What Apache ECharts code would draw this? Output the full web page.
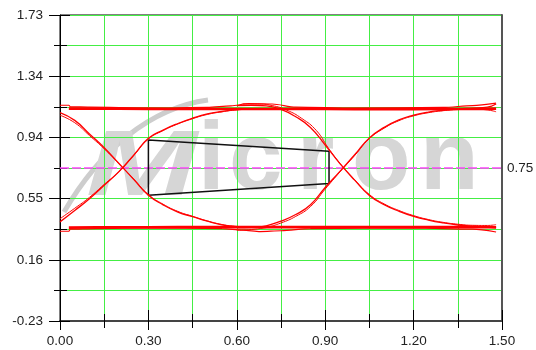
<!DOCTYPE html>
<html><head><meta charset="utf-8">
<script src="https://cdn.jsdelivr.net/npm/echarts/dist/echarts.min.js"></script>
<style>html,body{margin:0;padding:0;background:#fff}#c{width:536px;height:350px}</style>
</head><body><div id="c"></div>
<script>
// ---- tick labels ----
const xTicks = [0, 0.3, 0.6, 0.9, 1.2, 1.5];
const xTickLabels = ['0.00', '0.30', '0.60', '0.90', '1.20', '1.50'];
const yTicks = [-0.23, 0.162, 0.554, 0.946, 1.338, 1.73];
const yTickLabels = ['-0.23', '0.16', '0.55', '0.94', '1.34', '1.73'];
const refLevel = 0.75;
const refLabel = '0.75';
const watermark = ['M', 'i', 'c', 'r', 'o', 'n'];

// ---- eye traces (x = time, y = voltage) ----
const fallA = [[0.00,1.105],[0.05,1.055],[0.10,0.968],[0.15,0.880],[0.20,0.779],[0.25,0.677],[0.30,0.575],[0.35,0.514],[0.40,0.468],[0.45,0.438],[0.50,0.409],[0.55,0.386],[0.60,0.375],[0.65,0.371],[0.70,0.369]];
const fallB = [[0.00,1.088],[0.05,1.040],[0.10,0.958],[0.15,0.873],[0.20,0.777],[0.25,0.680],[0.30,0.580],[0.35,0.518],[0.40,0.472],[0.45,0.440],[0.50,0.411],[0.55,0.388],[0.60,0.376],[0.65,0.372]];
const riseA = [[0.00,0.405],[0.05,0.478],[0.10,0.553],[0.15,0.640],[0.20,0.727],[0.25,0.832],[0.30,0.940],[0.35,0.993],[0.40,1.035],[0.45,1.069],[0.50,1.096],[0.55,1.112],[0.60,1.124],[0.65,1.129]];
const riseB = [[0.00,0.425],[0.05,0.492],[0.10,0.562],[0.15,0.645],[0.20,0.726],[0.25,0.830],[0.30,0.935],[0.35,0.990],[0.40,1.032],[0.45,1.066],[0.50,1.093],[0.55,1.110],[0.60,1.122],[0.65,1.128]];
const fall2A = [[0.60,1.150],[0.65,1.152],[0.70,1.148],[0.75,1.125],[0.80,1.078],[0.85,1.010],[0.90,0.897],[0.95,0.778],[1.00,0.672],[1.05,0.574],[1.10,0.515],[1.15,0.473],[1.20,0.440],[1.25,0.416],[1.30,0.398],[1.35,0.385],[1.40,0.377],[1.45,0.372],[1.48,0.369]];
const fall2B = [[0.62,1.160],[0.67,1.160],[0.72,1.150],[0.77,1.120],[0.82,1.068],[0.87,0.990],[0.91,0.880],[0.95,0.780],[1.00,0.675],[1.05,0.580],[1.10,0.520],[1.15,0.478],[1.20,0.445],[1.25,0.420],[1.30,0.402],[1.35,0.390],[1.40,0.383],[1.45,0.382],[1.48,0.387]];
const rise2A = [[0.60,0.368],[0.65,0.370],[0.70,0.380],[0.75,0.410],[0.80,0.452],[0.85,0.515],[0.90,0.625],[0.95,0.728],[1.00,0.835],[1.05,0.943],[1.10,1.010],[1.15,1.058],[1.20,1.088],[1.25,1.108],[1.30,1.120],[1.35,1.128],[1.40,1.134],[1.45,1.140],[1.48,1.160]];
const rise2B = [[0.60,0.352],[0.65,0.356],[0.70,0.370],[0.75,0.398],[0.80,0.440],[0.85,0.503],[0.90,0.615],[0.95,0.725],[1.00,0.830],[1.05,0.938],[1.10,1.005],[1.15,1.053],[1.20,1.084],[1.25,1.104],[1.30,1.117],[1.35,1.124],[1.40,1.127],[1.45,1.122],[1.48,1.110]];
const topRail = [[0.03,1.130],[0.20,1.130],[0.40,1.128],[0.60,1.128],[0.80,1.128],[1.00,1.127],[1.20,1.127],[1.40,1.128],[1.48,1.130]];
const topRailAlt = [[0.00,1.152],[0.03,1.152],[0.035,1.142],[0.10,1.140],[0.30,1.134],[0.50,1.138],[0.58,1.148],[0.64,1.162],[0.72,1.160],[0.80,1.140],[1.00,1.133],[1.30,1.138],[1.40,1.150],[1.48,1.165]];
const bottomRail = [[0.03,0.368],[0.20,0.370],[0.40,0.371],[0.60,0.371],[0.80,0.371],[1.00,0.371],[1.20,0.371],[1.40,0.372],[1.48,0.370]];
const bottomRailAlt = [[0.00,0.345],[0.03,0.345],[0.035,0.358],[0.12,0.362],[0.30,0.366],[0.55,0.362],[0.62,0.352],[0.68,0.343],[0.75,0.348],[0.85,0.362],[1.20,0.366],[1.40,0.358],[1.48,0.340]];
// ---- eye mask ----
const maskX = [0.30, 0.913, 0.913, 0.30, 0.30];
const maskY = [0.930, 0.857, 0.650, 0.575, 0.930];

function pickLabel(v, ticks, labels) {
  for (let i = 0; i < ticks.length; i++) if (Math.abs(v - ticks[i]) < 1e-4) return labels[i];
  return '';
}

const GREEN = '#44ee44';
const WM = '#d6d6d6';
const labelStyle = { color: '#222', fontSize: 13.5, fontFamily: 'Liberation Sans, Arial, sans-serif' };

const chart = echarts.init(document.getElementById('c'), null, { renderer: 'canvas' });

const edges = [
  { d: fallA, w: 1.3 }, { d: fallB, w: 1 }, { d: riseA, w: 1.3 }, { d: riseB, w: 1 },
  { d: fall2A, w: 1.3 }, { d: fall2B, w: 1 }, { d: rise2A, w: 1.3 }, { d: rise2B, w: 1 }
];
const rails = [
  { d: topRailAlt, w: 1.2 }, { d: bottomRailAlt, w: 1.2 },
  { d: topRail, w: 2.6 }, { d: bottomRail, w: 2.6 }
];

const series = edges.map(t => ({
  type: 'line', data: t.d, symbol: 'none', showSymbol: false,
  smooth: 0.5, silent: true, z: 4, zlevel: 1,
  lineStyle: { color: '#ff0000', width: t.w }
})).concat(rails.map(t => ({
  type: 'line', data: t.d, symbol: 'none', showSymbol: false,
  smooth: 0.3, smoothMonotone: 'x', silent: true, z: 4, zlevel: 1,
  lineStyle: { color: '#ff0000', width: t.w }
})));

series.unshift({
  type: 'line', data: maskX.map((x, i) => [x, maskY[i]]), symbol: 'none', silent: true, z: 3, zlevel: 1,
  lineStyle: { color: '#111', width: 1.5 },
  markLine: {
    silent: true, symbol: 'none', animation: false, zlevel: 1, z: 3,
    lineStyle: { color: '#ff44ff', width: 1.5, type: [9, 3] },
    label: { show: true, position: 'end', distance: 5, formatter: refLabel, ...labelStyle },
    data: [{ yAxis: refLevel }]
  }
});

const xBase = { type: 'value', min: 0, max: 1.5, interval: 0.3, gridIndex: 0, zlevel: 1 };
const yBase = { type: 'value', min: -0.23, max: 1.73, interval: 0.392, gridIndex: 0, zlevel: 1 };

const wmText = (i, x, y, font, extra) => Object.assign({
  type: 'text', zlevel: 0, z: 0, silent: true, x: x, y: y,
  style: { text: watermark[i], font: font, fill: WM, verticalAlign: 'middle' }
}, extra || {});

chart.setOption({
  animation: false,
  backgroundColor: '#fff',
  grid: { left: 60, right: 34, top: 15, bottom: 29, show: true, borderColor: '#000', borderWidth: 1, zlevel: 1 },
  xAxis: [
    { ...xBase, position: 'bottom',
      axisLine: { show: true, onZero: false, lineStyle: { color: '#444', width: 2 } },
      axisTick: { show: true, inside: false, length: 9, lineStyle: { color: '#000' } },
      minorTick: { show: true, splitNumber: 2, length: 7, lineStyle: { color: '#000' } },
      axisLabel: { show: true, margin: 13, formatter: v => pickLabel(v, xTicks, xTickLabels), ...labelStyle },
      splitLine: { show: true, lineStyle: { color: GREEN, width: 1 } },
      minorSplitLine: { show: true, lineStyle: { color: GREEN, width: 1 } } },
    { ...xBase, position: 'bottom',
      axisLine: { show: false, onZero: false },
      axisTick: { show: true, inside: true, length: 11, lineStyle: { color: '#000' } },
      minorTick: { show: true, splitNumber: 2, length: 7, lineStyle: { color: '#000' } },
      axisLabel: { show: false }, splitLine: { show: false } }
  ],
  yAxis: [
    { ...yBase, position: 'left',
      axisLine: { show: true, onZero: false, lineStyle: { color: '#000', width: 1 } },
      axisTick: { show: true, inside: false, length: 11, lineStyle: { color: '#000' } },
      minorTick: { show: true, splitNumber: 2, length: 6, lineStyle: { color: '#000' } },
      axisLabel: { show: true, margin: 17, formatter: v => pickLabel(v, yTicks, yTickLabels), ...labelStyle },
      splitLine: { show: true, lineStyle: { color: GREEN, width: 1 } },
      minorSplitLine: { show: true, lineStyle: { color: GREEN, width: 1 } } },
    { ...yBase, position: 'left',
      axisLine: { show: false, onZero: false },
      axisTick: { show: true, inside: true, length: 10, lineStyle: { color: '#000' } },
      minorTick: { show: true, splitNumber: 2, length: 7, lineStyle: { color: '#000' } },
      axisLabel: { show: false }, splitLine: { show: false } },
    { ...yBase, position: 'right',
      axisLine: { show: true, onZero: false, lineStyle: { color: '#555', width: 2 } },
      axisTick: { show: false }, axisLabel: { show: false }, splitLine: { show: false } }
  ],
  graphic: { elements: [
    { type: 'bezierCurve', zlevel: 0, z: 0, silent: true,
      shape: { x1: 64, y1: 212, cpx1: 100, cpy1: 150, cpx2: 150, cpy2: 108, x2: 208, y2: 100 },
      style: { stroke: '#cdcdcd', lineWidth: 5, fill: null } },
    wmText(0, 86, 170, 'italic bold 92px "Liberation Sans", Arial', { scaleX: 1.45 }),
    wmText(1, 198, 163, 'bold 96px "Liberation Sans", Arial'),
    wmText(2, 229, 163, 'bold 96px "Liberation Sans", Arial'),
    wmText(3, 297, 163, 'bold 96px "Liberation Sans", Arial'),
    wmText(4, 352, 163, 'bold 96px "Liberation Sans", Arial'),
    wmText(5, 420, 163, 'bold 96px "Liberation Sans", Arial')
  ] },
  series: series
});
</script></body></html>
